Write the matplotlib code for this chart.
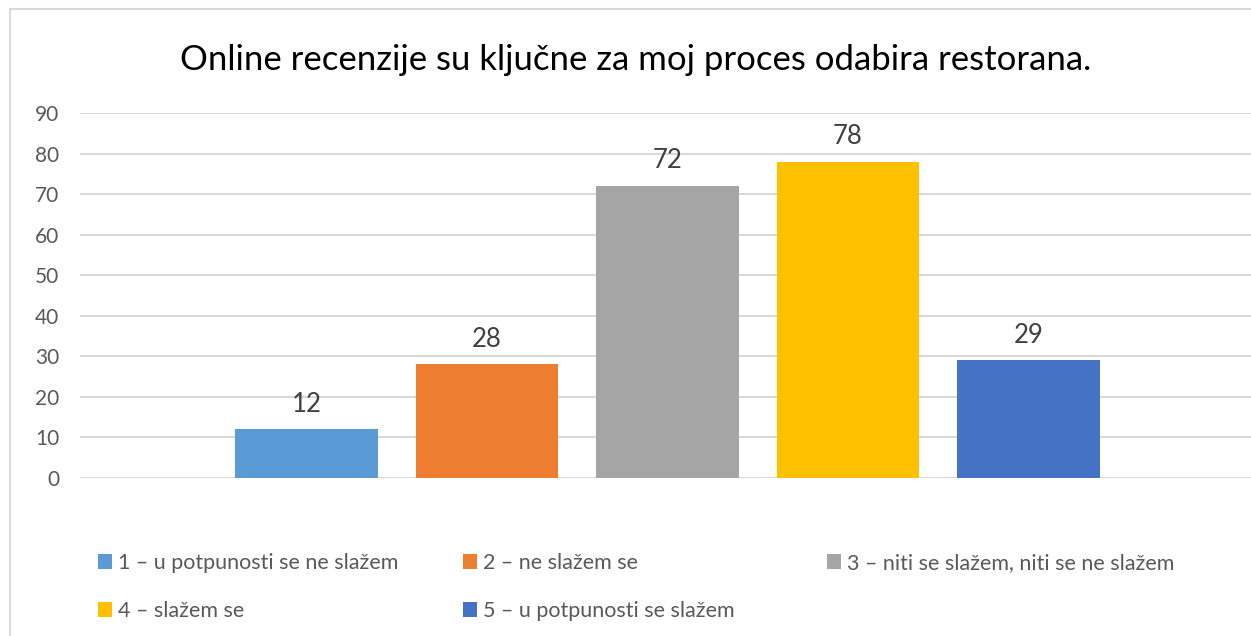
import matplotlib.pyplot as plt
from matplotlib.patches import Rectangle, Patch

plt.rcParams['font.family'] = ['Lato', 'DejaVu Sans']

title = "Online recenzije su ključne za moj proces odabira restorana."
labels = ["1 – u potpunosti se ne slažem", "2 – ne slažem se",
          "3 – niti se slažem, niti se ne slažem", "4 – slažem se",
          "5 – u potpunosti se slažem"]
values = [12, 28, 72, 78, 29]
colors = ["#5B9BD5", "#ED7D31", "#A5A5A5", "#FFC000", "#4472C4"]
yticks = [0, 10, 20, 30, 40, 50, 60, 70, 80, 90]

W, H = 1251, 636
fig = plt.figure(figsize=(W / 100, H / 100), dpi=100)
ax = fig.add_axes([80 / W, 1 - 478 / H, 1 - 80 / W, (478 - 113) / H])

pos = list(range(len(values)))
bars = ax.bar(pos, values, width=0.79, color=colors, zorder=3)
for b, v in zip(bars, values):
    ax.annotate(str(v), (b.get_x() + b.get_width() / 2, v), xytext=(0, 18),
                textcoords='offset points', ha='center', va='center',
                fontsize=18.5, color='#404040')

ax.set_xlim(-1.256, 5.234)
ax.set_ylim(0, 90)
ax.set_yticks(yticks)
ax.set_yticklabels([str(t) for t in yticks])
ax.tick_params(axis='y', length=0, pad=15, labelsize=15, labelcolor='#595959')
ax.set_xticks([])
ax.grid(axis='y', color='#D9D9D9', linewidth=1.5, zorder=0)
for s in ax.spines.values():
    s.set_visible(False)

fig.text(636 / W, 1 - 60 / H, title, ha='center', va='center', fontsize=25, color='#000000')

# legend, three columns like Excel
handles = [Patch(facecolor=c, edgecolor='none') for c in colors]
cols = [[0, 3], [1, 4], [2]]
xs = [98, 463, 827]
for idx, x0 in zip(cols, xs):
    fig.legend([handles[i] for i in idx], [labels[i] for i in idx],
               loc='upper left', bbox_to_anchor=(x0 / W, 1 - 553 / H),
               frameon=False, borderpad=0, borderaxespad=0,
               handlelength=0.65, handleheight=0.65, handletextpad=0.3,
               labelspacing=1.3, fontsize=15.5, labelcolor='#595959')

fig.patches.append(Rectangle((10 / W, -0.1), 1.2, 1 - 9 / H + 0.1, transform=fig.transFigure,
                             fill=False, edgecolor='#D9D9D9', linewidth=1.5))

fig.savefig('out.png', dpi=100)
